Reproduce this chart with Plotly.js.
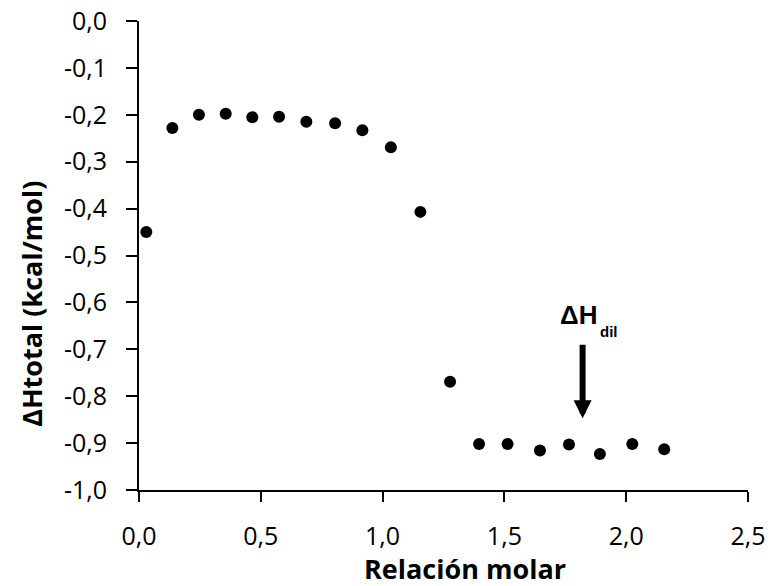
<!DOCTYPE html>
<html>
<head>
<meta charset="utf-8">
<script src="https://cdn.plot.ly/plotly-3.0.1.min.js"></script>
<style>html,body{margin:0;padding:0;background:#fff;}#chart{width:770px;height:586px;}</style>
</head>
<body>
<div id="chart"></div>
<script>
const relacionMolar = [0.03, 0.137, 0.246, 0.356, 0.465, 0.575, 0.687, 0.805, 0.917, 1.034, 1.155, 1.277, 1.396, 1.513, 1.646, 1.765, 1.892, 2.025, 2.156];
const deltaHTotal = [-0.450, -0.228, -0.200, -0.198, -0.205, -0.204, -0.215, -0.218, -0.233, -0.269, -0.407, -0.769, -0.902, -0.902, -0.916, -0.903, -0.923, -0.902, -0.913];

const xTickVals = [0, 0.5, 1.0, 1.5, 2.0, 2.5];
const xTickText = ["0,0", "0,5", "1,0", "1,5", "2,0", "2,5"];
const yTickVals = [0, -0.1, -0.2, -0.3, -0.4, -0.5, -0.6, -0.7, -0.8, -0.9, -1.0];
const yTickText = ["0,0", "-0,1", "-0,2", "-0,3", "-0,4", "-0,5", "-0,6", "-0,7", "-0,8", "-0,9", "-1,0"];

const xTitle = "Relación molar";
const yTitle = "ΔHtotal (kcal/mol)";
const labelMain = "ΔH";
const labelSub = "dil";

const arrowX = 1.821;
const arrowTop = -0.687;
const arrowBottom = -0.847;

const fontFam = "'Open Sans', sans-serif";
const labelFam = "'Liberation Sans', Arial, sans-serif";

const trace = {
  x: relacionMolar,
  y: deltaHTotal,
  type: 'scatter',
  mode: 'markers',
  marker: {color: '#000', size: 12},
  hoverinfo: 'skip'
};

const layout = {
  width: 770,
  height: 586,
  margin: {l: 139, r: 22, t: 21, b: 96},
  paper_bgcolor: '#fff',
  plot_bgcolor: '#fff',
  showlegend: false,
  font: {family: fontFam, color: '#000', size: 25},
  xaxis: {
    range: [0, 2.5],
    tickvals: xTickVals,
    ticktext: xTickText,
    ticks: 'outside',
    ticklen: 10,
    tickwidth: 2,
    tickcolor: '#000',
    ticklabelstandoff: 13,
    showline: true,
    linecolor: '#000',
    linewidth: 2,
    showgrid: false,
    zeroline: false,
    tickfont: {family: fontFam, size: 25, color: '#000'}
  },
  yaxis: {
    range: [-1.0, 0],
    tickvals: yTickVals,
    ticktext: yTickText,
    ticks: 'outside',
    ticklen: 11,
    tickwidth: 2,
    tickcolor: '#000',
    ticklabelstandoff: 14,
    showline: true,
    linecolor: '#000',
    linewidth: 2,
    showgrid: false,
    zeroline: false,
    tickfont: {family: fontFam, size: 25, color: '#000'}
  },
  annotations: [
    {
      xref: 'paper', yref: 'paper', x: 0.535, y: -0.168,
      xanchor: 'center', yanchor: 'middle', showarrow: false,
      text: '<b>' + xTitle + '</b>',
      font: {family: fontFam, size: 27, color: '#000'}
    },
    {
      xref: 'paper', yref: 'paper', x: -0.176, y: 0.3966,
      xanchor: 'center', yanchor: 'middle', showarrow: false, textangle: -90,
      text: '<b>' + yTitle + '</b>',
      font: {family: fontFam, size: 27, color: '#000'}
    },
    {
      x: arrowX, y: arrowBottom, ax: arrowX, ay: arrowTop,
      xref: 'x', yref: 'y', axref: 'x', ayref: 'y',
      showarrow: true, arrowhead: 2, arrowsize: 0.6, arrowwidth: 6, arrowcolor: '#000',
      text: ''
    },
    {
      x: 1.720, y: -0.627, xref: 'x', yref: 'y',
      xanchor: 'left', yanchor: 'middle', showarrow: false,
      text: '<b>' + labelMain + '</b>',
      font: {family: labelFam, size: 26, color: '#000'}
    },
    {
      x: 1.884, y: -0.661, xref: 'x', yref: 'y',
      xanchor: 'left', yanchor: 'middle', showarrow: false,
      text: '<b>' + labelSub + '</b>',
      font: {family: labelFam, size: 15, color: '#000'}
    }
  ]
};

Plotly.newPlot('chart', [trace], layout, {displayModeBar: false, staticPlot: true});
</script>
</body>
</html>
